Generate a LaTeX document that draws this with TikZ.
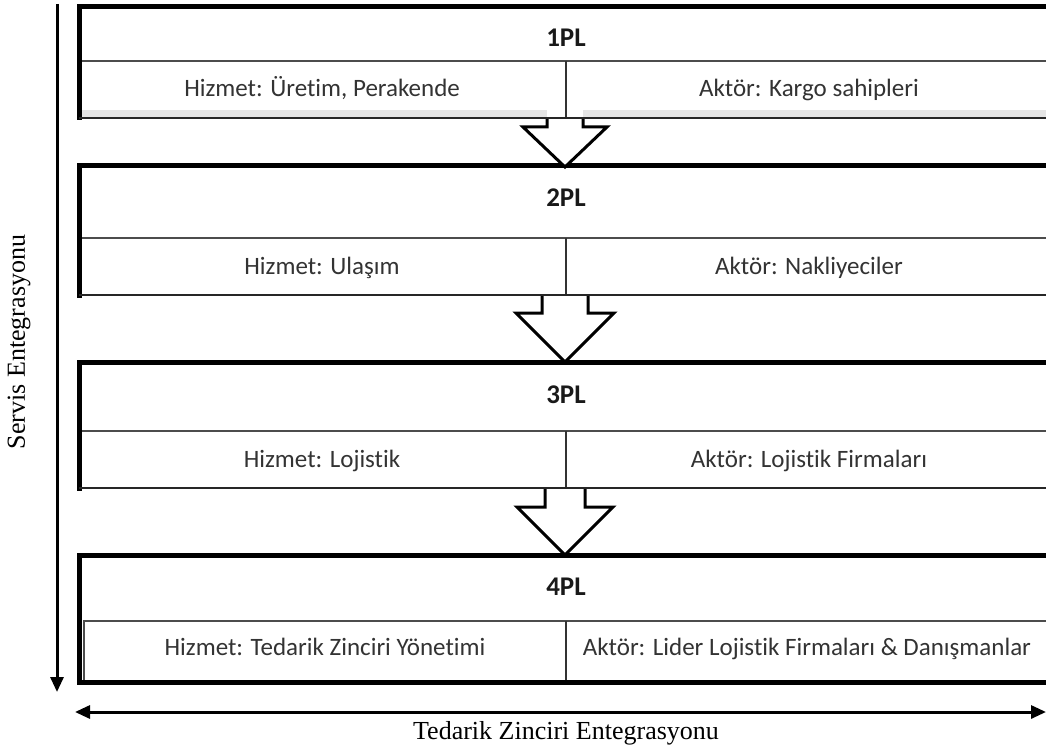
\documentclass[tikz,border=0pt]{standalone}
\usepackage{fontspec}
\setmainfont{Liberation Serif}
\newfontfamily\calfont[Ligatures=NoCommon]{Carlito}
\usetikzlibrary{arrows.meta,calc}

% block arrow between two stacked boxes:
% #1 start (box bottom), #2 tip (next box top), #3 half stem, #4 half wing, #5 stem length
\newcommand\blockarr[5]{%
  \draw[blockarrow] ($(#1)+(-#3,0)$) -- ($(#1)+(-#3,#5)$) -- ($(#1)+(-#4,#5)$)
    -- (#2) -- ($(#1)+(#4,#5)$) -- ($(#1)+(#3,#5)$) -- ($(#1)+(#3,0)$);}

\begin{document}
\begin{tikzpicture}[x=1pt,y=-1pt,
  frame/.style={line width=5pt,line cap=rect},
  lowedge/.style={line width=2.6pt,draw=black!85},
  rule/.style={line width=2pt,draw=black!70},
  split/.style={line width=1.5pt,draw=black!80},
  strip/.style={fill=black!10},
  blockarrow/.style={draw=black,fill=white,line width=3pt,line join=miter},
  title/.style={anchor=base,font=\calfont\bfseries\fontsize{27}{32}\selectfont,text=black!90},
  cell/.style={anchor=base,font=\calfont\fontsize{25}{30}\selectfont,text=black!80},
  axis/.style={line width=3pt,draw=black},
  axislabel/.style={font=\fontsize{26}{30}\selectfont,text=black}]

\clip (0,0) rectangle (1046,749);
\fill[white] (0,0) rectangle (1046,749);

% ---------- box 1 ----------
\fill[strip] (81,110) rectangle (547,117);
\fill[strip] (583,110) rectangle (1100,117);
\draw[rule] (79,61) -- (1100,61);
\draw[split] (566,61) -- (566,118);
\draw[lowedge] (79,118) -- (1100,118);
\draw[frame] (79,118) -- (79,7) -- (1100,7);
\node[title] (t1) at (566,47) {1PL};
\node[cell] (h1) at (322,97) {Hizmet: Üretim, Perakende};
\node[cell] (a1) at (809,97) {Aktör: Kargo sahipleri};

% ---------- box 2 ----------
\draw[rule] (79,238) -- (1100,238);
\draw[split] (566,238) -- (566,295);
\draw[lowedge] (79,295) -- (1100,295);
\draw[frame] (79,295) -- (79,165) -- (1100,165);
\node[title] (t2) at (566,206) {2PL};
\node[cell] (h2) at (322,274) {Hizmet: Ulaşım};
\node[cell] (a2) at (809,274) {Aktör: Nakliyeciler};

% ---------- box 3 ----------
\draw[rule] (79,431) -- (1100,431);
\draw[split] (566,431) -- (566,488);
\draw[lowedge] (79,488) -- (1100,488);
\draw[frame] (79,488) -- (79,362) -- (1100,362);
\node[title] (t3) at (566,403) {3PL};
\node[cell] (h3) at (322,467) {Hizmet: Lojistik};
\node[cell] (a3) at (809,467) {Aktör: Lojistik Firmaları};

% ---------- box 4 ----------
\draw[rule] (84,680) -- (84,621) -- (1100,621);
\draw[split] (566,621) -- (566,682);
\draw[frame] (79,682) -- (1100,682);
\draw[frame] (79,682) -- (79,555) -- (1100,555);
\node[title] (t4) at (566,595) {4PL};
\node[cell] (h4) at (325,655) {Hizmet: Tedarik Zinciri Yönetimi};
\node[cell] (a4) at (807,655) {Aktör: Lider Lojistik Firmaları \& Danışmanlar};

% ---------- block arrows between the levels ----------
\coordinate (s1) at (565,118); \coordinate (n2) at (565,167);
\coordinate (s2) at (565,295); \coordinate (n3) at (565,362);
\coordinate (s3) at (565,488); \coordinate (n4) at (565,555);
\blockarr{s1}{n2}{18}{42}{9}
\blockarr{s2}{n3}{23}{49}{18}
\blockarr{s3}{n4}{20}{48}{19}
% keep box edges above the arrow stems
\draw[lowedge] (79,118) -- (1100,118);
\draw[lowedge] (79,295) -- (1100,295);
\draw[lowedge] (79,488) -- (1100,488);

% ---------- integration axes ----------
\coordinate (vtop) at (57,4);
\coordinate (vbot) at (57,692);
\draw[axis,-{Triangle[length=15pt,width=13pt]}] (vtop) -- (vbot);
\coordinate (hleft) at (75,712);
\coordinate (hright) at (1046,712);
\draw[axis,{Triangle[length=15pt,width=13pt]}-{Triangle[length=15pt,width=13pt]}] (hleft) -- (hright);

\node[axislabel,rotate=90] (vlab) at (19,342) {Servis Entegrasyonu};
\node[axislabel] (hlab) at (566,733) {Tedarik Zinciri Entegrasyonu};
\end{tikzpicture}
\end{document}
